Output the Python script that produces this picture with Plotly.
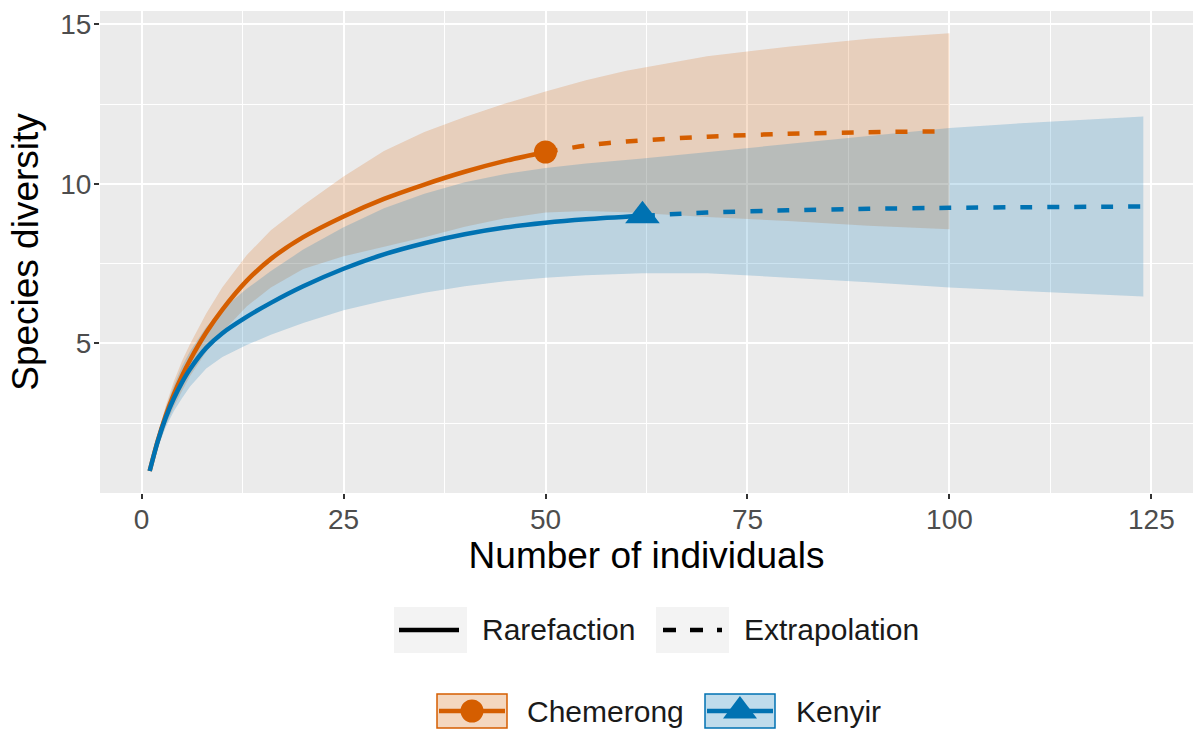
import plotly.graph_objects as go

# ---- Chemerong -------------------------------------------------------------
chem_n_rare = [1, 2, 3, 4, 5, 6, 8, 10, 13, 16, 20, 25, 30, 35, 40, 45, 50]
chem_s_rare = [1.0, 1.95, 2.75, 3.41, 3.98, 4.48, 5.34, 6.06, 6.96, 7.65, 8.33,
               8.98, 9.53, 9.98, 10.38, 10.72, 11.0]
chem_n_extr = [50, 55, 60, 70, 80, 90, 100]
chem_s_extr = [11.0, 11.2, 11.33, 11.48, 11.57, 11.62, 11.65]
# confidence band on the combined grid (rarefaction + extrapolation)
chem_n_band = [1, 2, 3, 4, 5, 6, 8, 10, 13, 16, 20, 25, 30, 35, 40, 45, 50,
               55, 60, 70, 80, 90, 100]
chem_lcl = [1.0, 1.75, 2.45, 3.01, 3.51, 3.98, 4.74, 5.36, 6.16, 6.75, 7.33, 7.73,
            8.03, 8.33, 8.66, 8.92, 9.1, 9.15, 9.11, 8.96, 8.84, 8.69, 8.58]
chem_ucl = [1.0, 2.15, 3.05, 3.81, 4.45, 4.98, 5.94, 6.76, 7.76, 8.55, 9.33, 10.23,
            11.03, 11.63, 12.1, 12.52, 12.9, 13.25, 13.55, 14.0, 14.3, 14.55, 14.72]
chem_obs_n = [50]
chem_obs_s = [11.0]

# ---- Kenyir ----------------------------------------------------------------
keny_n_rare = [1, 2, 3, 4, 5, 6, 8, 10, 13, 16, 20, 25, 30, 35, 40, 45, 50, 55, 62]
keny_s_rare = [1.0, 1.93, 2.68, 3.28, 3.78, 4.2, 4.86, 5.32, 5.83, 6.27, 6.79,
               7.34, 7.79, 8.14, 8.42, 8.63, 8.78, 8.89, 9.0]
keny_n_extr = [62, 70, 80, 90, 100, 110, 124]
keny_s_extr = [9.0, 9.1, 9.17, 9.22, 9.25, 9.27, 9.29]
keny_n_band = [1, 2, 3, 4, 5, 6, 8, 10, 13, 16, 20, 25, 30, 35, 40, 45, 50, 55, 62,
               70, 80, 90, 100, 110, 124]
keny_lcl = [1.0, 1.73, 2.38, 2.88, 3.28, 3.65, 4.21, 4.57, 4.95, 5.27, 5.64, 6.04,
            6.34, 6.59, 6.79, 6.95, 7.06, 7.14, 7.2, 7.2, 7.07, 6.92, 6.75, 6.62, 6.47]
keny_ucl = [1.0, 2.13, 2.98, 3.68, 4.28, 4.75, 5.51, 6.07, 6.71, 7.27, 7.94, 8.64,
            9.24, 9.69, 10.05, 10.31, 10.5, 10.64, 10.8, 11.0, 11.27, 11.52, 11.75,
            11.92, 12.11]
keny_obs_n = [62]
keny_obs_s = [9.0]

x_ticks = [0, 25, 50, 75, 100, 125]
y_ticks = [5, 10, 15]

ORANGE = "#D55E00"
BLUE = "#0072B2"
ORANGE_FILL = "rgba(213,94,0,0.2)"
BLUE_FILL = "rgba(0,114,178,0.2)"
FONT = "Liberation Sans, Arial, Helvetica, sans-serif"

W, H = 1193, 731
L, R, T, B = 100, 0, 11, 238

fig = go.Figure()


def band(n, lo, hi, color):
    fig.add_trace(go.Scatter(
        x=list(n) + list(n)[::-1], y=list(hi) + list(lo)[::-1],
        fill="toself", fillcolor=color, line=dict(width=0),
        mode="lines", hoverinfo="skip", showlegend=False))


band(chem_n_band, chem_lcl, chem_ucl, ORANGE_FILL)
band(keny_n_band, keny_lcl, keny_ucl, BLUE_FILL)

for n_r, s_r, n_e, s_e, col in [
        (chem_n_rare, chem_s_rare, chem_n_extr, chem_s_extr, ORANGE),
        (keny_n_rare, keny_s_rare, keny_n_extr, keny_s_extr, BLUE)]:
    fig.add_trace(go.Scatter(x=n_r, y=s_r, mode="lines",
                             line=dict(color=col, width=4.5, shape="spline",
                                       smoothing=0.8),
                             showlegend=False))
    fig.add_trace(go.Scatter(x=n_e, y=s_e, mode="lines",
                             line=dict(color=col, width=4.5, dash="12px,15px",
                                       shape="spline", smoothing=0.8),
                             showlegend=False))

fig.add_trace(go.Scatter(x=chem_obs_n, y=chem_obs_s, mode="markers",
                         marker=dict(symbol="circle", size=23, color=ORANGE,
                                     line=dict(width=0)),
                         showlegend=False))
fig.add_trace(go.Scatter(x=keny_obs_n, y=keny_obs_s, mode="markers",
                         marker=dict(symbol="triangle-up", size=30, color=BLUE,
                                     line=dict(width=0)),
                         showlegend=False))

# ---- legends drawn in figure pixels ---------------------------------------
PW = W - L - R
PH = H - T - B


def fx(p):
    return (p - L) / PW


def fy(p):
    return (H - B - p) / PH


shapes = []
annots = []


def rect(x0, y0, x1, y1, fill, line_col=None, lw=0):
    shapes.append(dict(type="rect", xref="paper", yref="paper",
                       x0=fx(x0), x1=fx(x1), y0=fy(y0), y1=fy(y1),
                       fillcolor=fill,
                       line=dict(color=line_col or fill, width=lw)))


def hline(x0, x1, y, col, lw, dash="solid"):
    shapes.append(dict(type="line", xref="paper", yref="paper",
                       x0=fx(x0), x1=fx(x1), y0=fy(y), y1=fy(y),
                       line=dict(color=col, width=lw, dash=dash)))


def label(x, y, text):
    annots.append(dict(xref="paper", yref="paper", x=fx(x), y=fy(y),
                       text=text, showarrow=False, xanchor="left",
                       yanchor="middle",
                       font=dict(family=FONT, size=30, color="#1A1A1A")))


# line-type legend
ROW1 = 630
rect(394, 607, 467, 653, "#F3F3F3")
hline(399, 459, ROW1, "black", 4.5)
label(480, ROW1, "Rarefaction")
rect(656, 607, 729, 653, "#F3F3F3")
hline(663, 722, ROW1, "black", 4.5, dash="13px,14px")
label(742, ROW1, "Extrapolation")

# site legend
ROW2 = 711
rect(437, 694, 507, 728, "rgba(213,94,0,0.25)", ORANGE, 1.5)
hline(439, 505, ROW2, ORANGE, 4.5)
shapes.append(dict(type="circle", xref="paper", yref="paper",
                   x0=fx(472 - 11.5), x1=fx(472 + 11.5),
                   y0=fy(ROW2 + 11.5), y1=fy(ROW2 - 11.5),
                   fillcolor=ORANGE, line=dict(width=0)))
label(525, ROW2, "Chemerong")

rect(705, 694, 775, 728, "rgba(0,114,178,0.25)", BLUE, 1.5)
hline(707, 773, ROW2, BLUE, 4.5)
cx = 740
tri = "M {:.4f} {:.4f} L {:.4f} {:.4f} L {:.4f} {:.4f} Z".format(
    fx(cx - 17), fy(ROW2 + 7.5), fx(cx + 17), fy(ROW2 + 7.5), fx(cx), fy(ROW2 - 15))
shapes.append(dict(type="path", xref="paper", yref="paper", path=tri,
                   fillcolor=BLUE, line=dict(width=0)))
label(794, ROW2, "Kenyir")

axis_common = dict(
    showline=False, zeroline=False,
    gridcolor="white", gridwidth=2.4,
    ticks="outside", ticklen=5, tickwidth=1.5, tickcolor="#333333",
    tickfont=dict(family=FONT, size=28, color="#4D4D4D"),
)

fig.update_layout(
    width=W, height=H,
    margin=dict(l=L, r=R, t=T, b=B, pad=0),
    paper_bgcolor="white", plot_bgcolor="#EBEBEB",
    font=dict(family=FONT),
    shapes=shapes, annotations=annots,
    xaxis=dict(axis_common, range=[-5.15, 130.15], tickvals=x_ticks,
               ticklabelstandoff=-4,
               minor=dict(tickvals=[12.5, 37.5, 62.5, 87.5, 112.5],
                          showgrid=True, gridcolor="white", gridwidth=1.2,
                          ticks=""),
               title=dict(text="Number of individuals", standoff=8,
                          font=dict(family=FONT, size=37, color="black"))),
    yaxis=dict(axis_common, range=[0.31, 15.42], tickvals=y_ticks,
               ticklabelstandoff=-3,
               minor=dict(tickvals=[2.5, 7.5, 12.5], showgrid=True,
                          gridcolor="white", gridwidth=1.2, ticks=""),
               title=dict(text="Species diversity", standoff=10,
                          font=dict(family=FONT, size=37, color="black"))),
)

fig.write_html("out.html")
